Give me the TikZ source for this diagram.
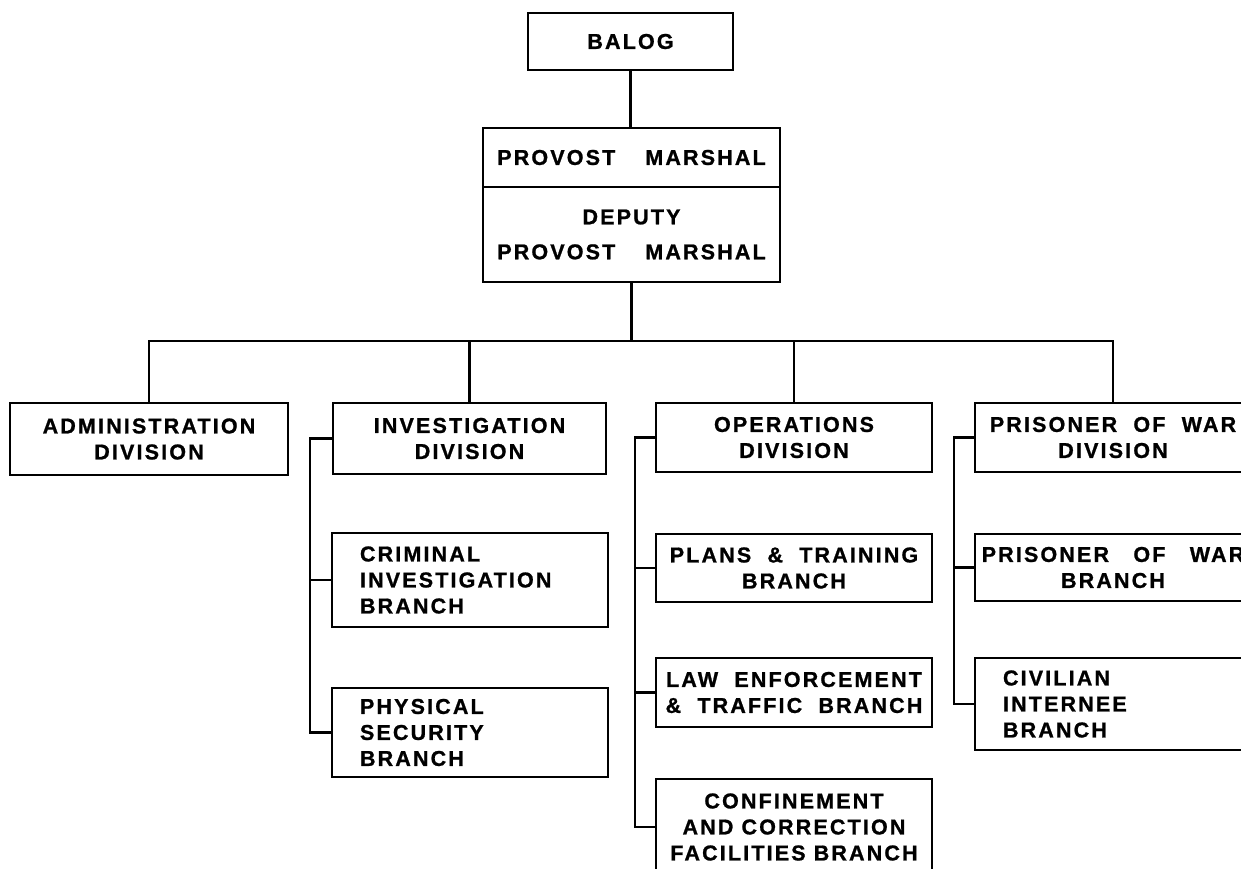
\documentclass[tikz,border=0pt]{standalone}
\usepackage{fontspec}
\setmainfont{Liberation Sans}[LetterSpace=10,BoldFeatures={FakeBold=1}]

\begin{document}
\begin{tikzpicture}[x=1pt,y=-1pt,
	unit/.style={draw,line width=2.8pt,outer sep=0pt,inner sep=1pt,align=center,
		font=\bfseries\fontsize{21.5}{26}\selectfont},
	leftunit/.style={unit,align=left,text width=220pt,inner xsep=28pt},
	link/.style={line width=2.8pt}]

	% page frame, the chart is cut on the right and at the bottom
	\useasboundingbox (0,0) rectangle (1241,868);
	\clip (0,0) rectangle (1241,868);

	% top of the chart
	\node[unit,minimum width=205pt,minimum height=57pt] (balog) at (630.5,41.5) {BALOG};
	\node[unit,minimum width=297pt,minimum height=59pt] (pm) at (631.5,157.5)
		{PROVOST\hspace{30pt}MARSHAL};
	\node[unit,minimum width=297pt,minimum height=95pt,anchor=north] (dpm) at (pm.south)
		{DEPUTY\\[9pt]PROVOST\hspace{30pt}MARSHAL};
	\coordinate (bus) at (0,341);

	% divisions
	\node[unit,minimum width=278pt,minimum height=72pt] (admin) at (149,439)
		{ADMINISTRATION\\DIVISION};
	\node[unit,minimum width=273pt,minimum height=71pt] (inv) at (469.5,438.5)
		{INVESTIGATION\\DIVISION};
	\node[unit,minimum width=276pt,minimum height=69pt] (ops) at (794,437.5)
		{OPERATIONS\\DIVISION};
	\node[unit,minimum width=276pt,minimum height=69pt] (pow) at (1113,437.5)
		{PRISONER~~OF~~WAR\\DIVISION};

	% branches
	\node[leftunit,minimum height=94pt] (crim) at (470,580)
		{CRIMINAL\\INVESTIGATION\\BRANCH};
	\node[leftunit,minimum height=89pt] (phys) at (470,732.5)
		{PHYSICAL\\SECURITY\\BRANCH};

	\node[unit,minimum width=276pt,minimum height=68pt] (plans) at (794,568)
		{PLANS~~\&~~TRAINING\\BRANCH};
	\node[unit,minimum width=276pt,minimum height=69pt] (law) at (794,692.5)
		{LAW~~ENFORCEMENT\\\&~~TRAFFIC~~BRANCH};
	\node[unit,minimum width=276pt,minimum height=96pt,inner ysep=3pt] (conf) at (794,827)
		{CONFINEMENT\\AND CORRECTION\\FACILITIES BRANCH};

	\node[unit,minimum width=276pt,minimum height=67pt] (powb) at (1113,567.5)
		{PRISONER~~~OF~~~WAR\\BRANCH};
	\node[leftunit,minimum height=92pt] (civ) at (1113,704)
		{CIVILIAN\\INTERNEE\\BRANCH};

	% connectors
	\draw[link] (balog.south) -- (balog.south |- pm.north);
	\draw[link] (dpm.south) -- (dpm.south |- bus);
	\draw[link] (admin.north) -- (admin.north |- bus) -- (pow.north |- bus) -- (pow.north);
	\foreach \d in {inv,ops}
		\draw[link] (\d.north) -- (\d.north |- bus);

	\draw[link] (inv.west) -- ++(-23,0) |- (phys.west);
	\draw[link] (crim.west) -- ++(-23,0);
	\draw[link] (ops.west) -- ++(-21,0) |- (conf.west);
	\foreach \b in {plans,law}
		\draw[link] (\b.west) -- ++(-21,0);
	\draw[link] (pow.west) -- ++(-21,0) |- (civ.west);
	\draw[link] (powb.west) -- ++(-21,0);
\end{tikzpicture}
\end{document}
